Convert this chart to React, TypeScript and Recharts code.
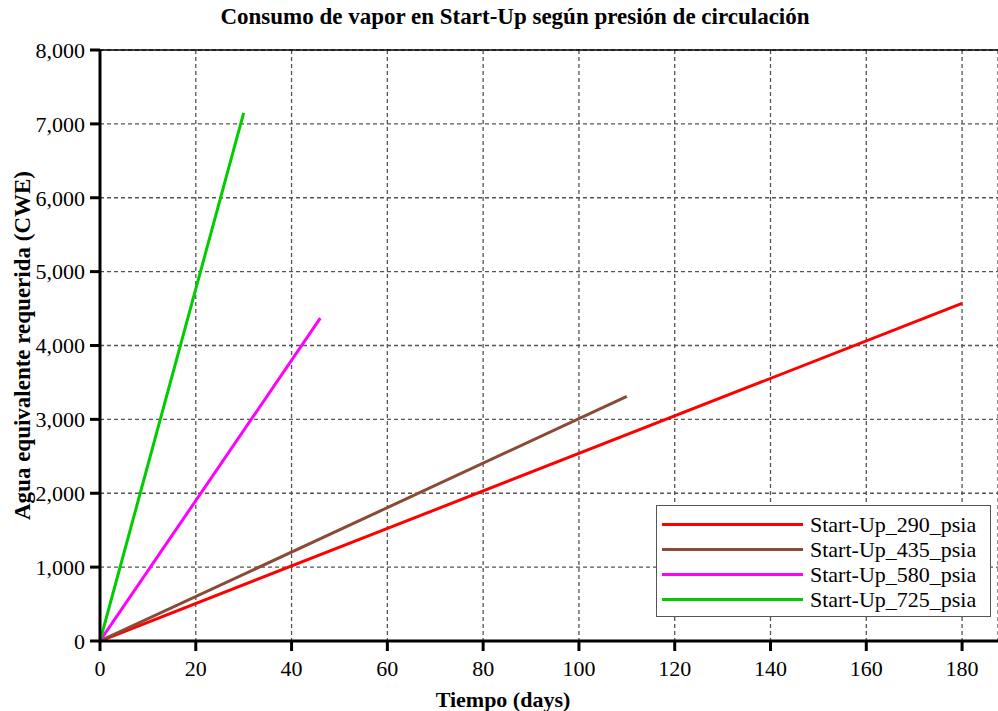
import React from "react";
import {
  CartesianGrid,
  Line,
  LineChart,
  ReferenceLine,
  XAxis,
  YAxis,
} from "recharts";

const seriesNames = [
  "Start-Up_290_psia",
  "Start-Up_435_psia",
  "Start-Up_580_psia",
  "Start-Up_725_psia",
];
const seriesColors = ["#ff0000", "#8a4b36", "#ff00ff", "#00cc00"];

// days / CWE pairs for each circulation pressure
const days290 = [0, 180];
const cwe290 = [0, 4570];
const days435 = [0, 110];
const cwe435 = [0, 3310];
const days580 = [0, 46];
const cwe580 = [0, 4370];
const days725 = [0, 30];
const cwe725 = [0, 7150];

const xTicks = [0, 20, 40, 60, 80, 100, 120, 140, 160, 180];
const yTicks = [0, 1000, 2000, 3000, 4000, 5000, 6000, 7000, 8000];

const toPoints = (xs: number[], ys: number[]) =>
  xs.map((x, i) => ({ x, y: ys[i] }));

const series = [
  toPoints(days290, cwe290),
  toPoints(days435, cwe435),
  toPoints(days580, cwe580),
  toPoints(days725, cwe725),
];

const FONT = "'Liberation Serif', 'Times New Roman', serif";

// legend box sits over the lower right of the plot
const LegendBox = () => (
  <div
    style={{
      position: "absolute",
      left: 656,
      top: 505,
      width: 335,
      height: 112,
      border: "1.5px solid #555",
      background: "#fff",
      padding: "6px 0 6px 5px",
      boxSizing: "border-box",
    }}
  >
    {seriesNames.map((name, i) => (
      <div
        key={name}
        style={{ display: "flex", alignItems: "center", height: 25 }}
      >
        <div
          style={{
            width: 141,
            height: 3,
            background: seriesColors[i],
            marginRight: 7,
            flexShrink: 0,
          }}
        />
        <span
          style={{
            fontFamily: FONT,
            fontSize: 22,
            color: "#000",
            whiteSpace: "nowrap",
            lineHeight: "25px",
          }}
        >
          {name}
        </span>
      </div>
    ))}
  </div>
);

export default function App() {
  return (
    <div
      style={{
        position: "absolute",
        left: 0,
        top: 0,
        width: 998,
        height: 711,
        background: "#fff",
        overflow: "hidden",
      }}
    >
      <div
        style={{
          position: "absolute",
          left: 0,
          width: 1030,
          top: 4,
          textAlign: "center",
          fontFamily: FONT,
          fontWeight: "bold",
          fontSize: 23,
        }}
      >
        Consumo de vapor en Start-Up según presión de circulación
      </div>
      <LineChart
        width={998}
        height={711}
        margin={{ top: 50, right: 0, bottom: 0, left: 0 }}
        style={{ position: "absolute", left: 0, top: 0 }}
      >
        <CartesianGrid stroke="#555" strokeDasharray="4 3" strokeWidth={1.3} />
        <XAxis
          type="number"
          dataKey="x"
          domain={[0, 187.5]}
          ticks={xTicks}
          allowDataOverflow
          height={70}
          stroke="#000"
          strokeWidth={3}
          tickSize={10}
          tickMargin={9}
          tick={{ fontFamily: FONT, fontSize: 22, fill: "#000" }}
          label={{
            value: "Tiempo (days)",
            position: "insideBottom",
            offset: 4,
            dx: -46,
            style: {
              fontFamily: FONT,
              fontWeight: "bold",
              fontSize: 22,
              fill: "#000",
            },
          }}
        />
        <YAxis
          type="number"
          domain={[0, 8000]}
          ticks={yTicks}
          width={100}
          stroke="#000"
          strokeWidth={3}
          tickSize={10}
          tickMargin={5}
          tickFormatter={(v: number) => v.toLocaleString("en-US")}
          tick={{ fontFamily: FONT, fontSize: 22, fill: "#000" }}
          label={{
            value: "Agua equivalente requerida (CWE)",
            angle: -90,
            position: "insideLeft",
            offset: 22,
            style: {
              textAnchor: "middle",
              fontFamily: FONT,
              fontWeight: "bold",
              fontSize: 23,
              fill: "#000",
            },
          }}
        />
        <ReferenceLine y={8000} stroke="#000" strokeWidth={1.5} />
        {series.map((pts, i) => (
          <Line
            key={seriesNames[i]}
            data={pts}
            dataKey="y"
            name={seriesNames[i]}
            stroke={seriesColors[i]}
            strokeWidth={3}
            dot={false}
            isAnimationActive={false}
          />
        ))}
      </LineChart>
      <LegendBox />
    </div>
  );
}
